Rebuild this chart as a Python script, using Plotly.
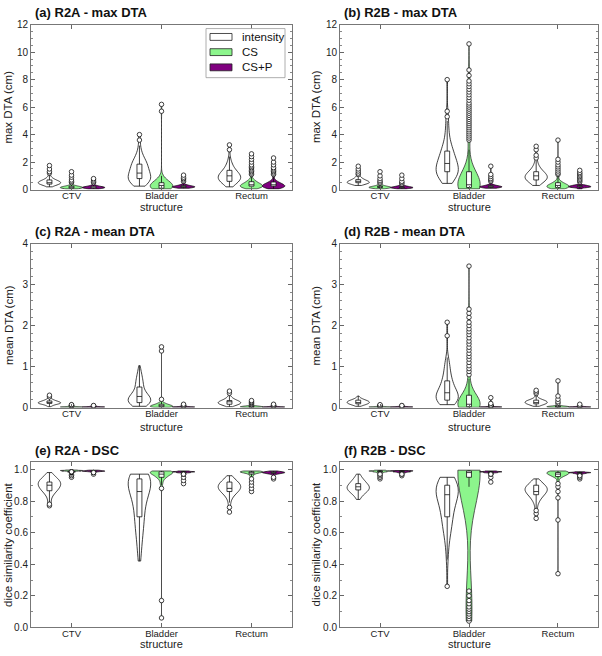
import numpy as np
import plotly.graph_objects as go


def rep(levels, counts):
    return np.repeat(np.array(levels, dtype=float), counts).tolist()


structures = ["CTV", "Bladder", "Rectum"]
methods = ["intensity", "CS", "CS+P"]

# ---------------- (a) R2A - max DTA ----------------
a_int_ctv = rep([0.2, 0.3, 0.4, 0.5, 0.6, 0.7, 0.8, 0.9, 1.0, 1.1, 1.2, 1.3, 1.5, 1.75],
                [2, 6, 12, 14, 11, 7, 4, 2, 1, 1, 1, 1, 1, 1])
a_cs_ctv = rep([0.05, 0.1, 0.15, 0.2, 0.25, 0.3, 0.4, 0.5, 0.6, 0.7, 0.9, 1.05, 1.3],
               [6, 14, 16, 12, 8, 5, 2, 1, 1, 1, 1, 1, 1])
a_csp_ctv = rep([0.05, 0.1, 0.15, 0.2, 0.25, 0.3, 0.4, 0.5, 0.6, 0.7, 0.8],
                [5, 14, 18, 12, 7, 4, 2, 1, 1, 1, 1])
a_int_bla = rep([0.25, 0.4, 0.6, 0.8, 1.0, 1.2, 1.4, 1.6, 1.8, 2.0, 2.2, 2.5, 2.8, 3.2, 3.6, 4.0],
                [2, 5, 8, 8, 7, 6, 6, 5, 5, 5, 4, 3, 2, 1, 1, 1])
a_cs_bla = rep([0.05, 0.1, 0.2, 0.3, 0.4, 0.5, 0.6, 0.7, 0.8, 0.9, 1.0, 5.7, 6.2],
               [8, 14, 14, 12, 9, 7, 5, 3, 2, 1, 1, 1, 1])
a_csp_bla = rep([0.1, 0.15, 0.2, 0.25, 0.3, 0.35, 0.4, 0.5, 0.6, 0.7, 0.8, 0.9, 1.05],
                [6, 14, 18, 12, 7, 4, 2, 1, 1, 1, 1, 1, 1])
a_int_rec = rep([0.2, 0.4, 0.6, 0.8, 1.0, 1.2, 1.4, 1.6, 1.8, 2.0, 2.2, 2.4, 2.9, 3.25],
                [2, 6, 10, 12, 12, 9, 6, 4, 3, 2, 1, 1, 1, 1])
a_cs_rec = rep([0.05, 0.15, 0.25, 0.35, 0.45, 0.55, 0.65, 0.75, 0.9, 1.0, 1.1, 1.2, 1.3, 1.4,
                1.5, 1.6, 1.7, 1.8, 2.0, 2.2, 2.4, 2.6],
               [6, 14, 16, 14, 10, 7, 5, 3, 1, 1, 1, 1, 1, 1, 1, 1, 1, 1, 1, 1, 1, 1])
a_csp_rec = rep([0.05, 0.15, 0.25, 0.35, 0.45, 0.55, 0.65, 0.8, 0.9, 1.0, 1.1, 1.2, 1.3, 1.4,
                 1.5, 1.6, 1.8, 2.0, 2.3],
                [6, 14, 16, 14, 10, 6, 4, 1, 1, 1, 1, 1, 1, 1, 1, 1, 1, 1, 1])

# ---------------- (b) R2B - max DTA ----------------
b_int_ctv = rep([0.3, 0.4, 0.5, 0.6, 0.7, 0.8, 0.9, 1.0, 1.1, 1.2, 1.35, 1.5, 1.7],
                [3, 9, 14, 12, 8, 5, 3, 2, 1, 1, 1, 1, 1])
b_cs_ctv = rep([0.05, 0.1, 0.15, 0.2, 0.25, 0.3, 0.35, 0.45, 0.55, 0.65, 0.8, 1.0, 1.3],
               [5, 12, 16, 14, 9, 5, 3, 1, 1, 1, 1, 1, 1])
b_csp_ctv = rep([0.05, 0.1, 0.15, 0.2, 0.25, 0.3, 0.4, 0.5, 0.6, 0.8, 1.05],
                [5, 14, 18, 12, 7, 4, 1, 1, 1, 1, 1])
b_int_bla = rep([0.45, 0.7, 1.0, 1.3, 1.6, 1.9, 2.2, 2.5, 2.8, 3.1, 3.5, 4.0, 4.5, 5.0, 5.3, 5.7, 8.0],
                [2, 5, 8, 9, 8, 7, 6, 5, 4, 4, 3, 2, 2, 1, 1, 1, 1])
b_cs_bla = rep([0.05, 0.15, 0.25, 0.35, 0.5, 0.7, 0.9, 1.1, 1.3, 1.6, 2.0, 2.9,
                3.6, 3.75, 3.9, 4.05, 4.2, 4.35, 4.5, 4.65, 4.8, 4.95, 5.1, 5.25, 5.4, 5.55,
                5.7, 5.85, 6.0, 6.15, 6.3, 6.5, 6.7, 6.9, 7.1, 7.3, 7.5, 7.7, 7.9, 8.3, 8.7, 10.6],
               [16, 22, 20, 16, 12, 9, 7, 5, 4, 3, 2, 1,
                1, 1, 1, 1, 1, 1, 1, 1, 1, 1, 1, 1, 1, 1,
                1, 1, 1, 1, 1, 1, 1, 1, 1, 1, 1, 1, 1, 1, 1, 1])
b_csp_bla = rep([0.1, 0.15, 0.2, 0.25, 0.3, 0.35, 0.4, 0.5, 0.6, 0.7, 0.8, 0.95, 1.1, 1.7],
                [6, 14, 18, 12, 7, 4, 2, 1, 1, 1, 1, 1, 1, 1])
b_int_rec = rep([0.3, 0.5, 0.7, 0.9, 1.1, 1.3, 1.5, 1.7, 1.9, 2.1, 2.3, 2.5, 2.9, 3.15],
                [3, 7, 11, 13, 11, 8, 5, 3, 2, 1, 1, 1, 1, 1])
b_cs_rec = rep([0.05, 0.15, 0.25, 0.35, 0.45, 0.55, 0.65, 0.8, 0.9, 1.0, 1.1, 1.2, 1.35, 1.5,
                1.65, 1.8, 2.0, 2.2, 3.6],
               [8, 16, 16, 12, 8, 5, 3, 1, 1, 1, 1, 1, 1, 1, 1, 1, 1, 1, 1])
b_csp_rec = rep([0.05, 0.15, 0.2, 0.25, 0.3, 0.35, 0.45, 0.55, 0.65, 0.75, 0.85, 0.95, 1.05,
                 1.15, 1.25, 1.4],
                [5, 12, 16, 14, 10, 6, 3, 1, 1, 1, 1, 1, 1, 1, 1, 1])

# ---------------- (c) R2A - mean DTA ----------------
c_int_ctv = rep([0.02, 0.05, 0.08, 0.1, 0.12, 0.14, 0.16, 0.18, 0.2, 0.22, 0.26, 0.3],
                [2, 5, 9, 12, 12, 10, 7, 5, 3, 2, 1, 1])
c_cs_ctv = rep([0.005, 0.01, 0.015, 0.02, 0.025, 0.03, 0.04, 0.05, 0.06, 0.07],
               [8, 14, 12, 8, 5, 3, 2, 1, 1, 1])
c_csp_ctv = rep([0.005, 0.01, 0.015, 0.02, 0.025, 0.03, 0.04, 0.05],
                [8, 14, 12, 8, 5, 3, 1, 1])
c_int_bla = rep([0.03, 0.07, 0.12, 0.17, 0.22, 0.27, 0.32, 0.4, 0.5, 0.6, 0.7, 0.8, 0.9, 1.02],
                [3, 7, 9, 9, 8, 7, 6, 5, 5, 5, 4, 3, 2, 1])
c_cs_bla = rep([0.005, 0.02, 0.04, 0.06, 0.08, 0.1, 0.12, 0.15, 0.2, 1.38, 1.48],
               [8, 14, 14, 10, 7, 5, 3, 2, 1, 1, 1])
c_csp_bla = rep([0.005, 0.01, 0.015, 0.02, 0.025, 0.03, 0.04, 0.06, 0.08],
                [8, 14, 12, 8, 5, 3, 2, 1, 1])
c_int_rec = rep([0.02, 0.05, 0.08, 0.11, 0.14, 0.17, 0.2, 0.23, 0.26, 0.3, 0.35, 0.4],
                [2, 6, 10, 12, 11, 8, 5, 3, 2, 1, 1, 1])
c_cs_rec = rep([0.005, 0.01, 0.02, 0.03, 0.04, 0.05, 0.08, 0.1, 0.12, 0.14, 0.17],
               [6, 12, 14, 10, 6, 3, 1, 1, 1, 1, 1])
c_csp_rec = rep([0.005, 0.01, 0.015, 0.02, 0.025, 0.03, 0.04, 0.06, 0.08],
                [8, 14, 12, 8, 5, 3, 2, 1, 1])

# ---------------- (d) R2B - mean DTA ----------------
d_int_ctv = rep([0.03, 0.06, 0.09, 0.12, 0.15, 0.18, 0.21, 0.24, 0.28],
                [2, 6, 10, 12, 11, 8, 4, 2, 1])
d_cs_ctv = rep([0.005, 0.01, 0.015, 0.02, 0.025, 0.03, 0.04, 0.05, 0.07],
               [8, 14, 12, 8, 5, 3, 2, 1, 1])
d_csp_ctv = rep([0.005, 0.01, 0.015, 0.02, 0.025, 0.03, 0.04, 0.05],
                [8, 14, 12, 8, 5, 3, 1, 1])
d_int_bla = rep([0.07, 0.12, 0.18, 0.25, 0.32, 0.4, 0.5, 0.6, 0.7, 0.8, 0.9, 1.0, 1.1, 1.15,
                 1.22, 1.75, 2.08],
                [3, 7, 9, 9, 8, 7, 6, 5, 4, 3, 3, 2, 2, 1, 1, 1, 1])
d_cs_bla = rep([0.005, 0.02, 0.05, 0.08, 0.12, 0.16, 0.2, 0.25, 0.3, 0.4, 0.5, 0.6, 0.7,
                0.8, 0.88, 0.95, 1.02, 1.1, 1.18, 1.25, 1.32, 1.4, 1.47, 1.55, 1.62, 1.7,
                1.78, 1.85, 1.92, 2.0, 2.08, 2.2, 2.3, 2.4, 3.45],
               [14, 20, 18, 14, 10, 8, 6, 5, 4, 3, 2, 2, 1,
                1, 1, 1, 1, 1, 1, 1, 1, 1, 1, 1, 1, 1,
                1, 1, 1, 1, 1, 1, 1, 1, 1])
d_csp_bla = rep([0.005, 0.01, 0.015, 0.02, 0.03, 0.04, 0.06, 0.1, 0.24],
                [8, 14, 12, 8, 5, 3, 2, 1, 1])
d_int_rec = rep([0.03, 0.06, 0.09, 0.12, 0.15, 0.18, 0.21, 0.25, 0.3, 0.34, 0.38, 0.42],
                [2, 6, 10, 12, 11, 8, 4, 2, 1, 1, 1, 1])
d_cs_rec = rep([0.005, 0.01, 0.02, 0.03, 0.04, 0.06, 0.08, 0.1, 0.14, 0.2, 0.28, 0.65],
               [6, 12, 14, 10, 6, 3, 1, 1, 1, 1, 1, 1])
d_csp_rec = rep([0.005, 0.01, 0.015, 0.02, 0.025, 0.03, 0.05, 0.08],
                [8, 14, 12, 8, 5, 3, 1, 1])

# ---------------- (e) R2A - DSC ----------------
e_int_ctv = rep([0.77, 0.78, 0.79, 0.8, 0.82, 0.84, 0.86, 0.88, 0.9, 0.92, 0.94, 0.96, 0.98],
                [1, 1, 1, 1, 2, 4, 7, 10, 12, 12, 9, 5, 2])
e_cs_ctv = rep([0.95, 0.96, 0.97, 0.98, 0.985, 0.99, 0.993, 0.996],
               [1, 1, 1, 2, 6, 14, 16, 8])
e_csp_ctv = rep([0.97, 0.98, 0.985, 0.988, 0.99, 0.993, 0.995],
                [1, 2, 6, 12, 14, 10, 4])
e_int_bla = rep([0.42, 0.45, 0.5, 0.55, 0.6, 0.65, 0.7, 0.75, 0.8, 0.84, 0.88, 0.91, 0.94, 0.97],
                [1, 1, 2, 2, 3, 4, 4, 4, 5, 5, 6, 8, 9, 8])
e_cs_bla = rep([0.06, 0.17, 0.88, 0.9, 0.92, 0.94, 0.95, 0.96, 0.97, 0.98, 0.985, 0.99],
               [1, 1, 1, 2, 3, 4, 5, 7, 9, 11, 10, 8])
e_csp_bla = rep([0.91, 0.93, 0.95, 0.97, 0.98, 0.985, 0.99],
                [1, 1, 1, 3, 10, 16, 8])
e_int_rec = rep([0.73, 0.76, 0.79, 0.82, 0.84, 0.86, 0.88, 0.9, 0.92, 0.94, 0.96],
                [1, 1, 2, 3, 5, 9, 12, 12, 9, 5, 2])
e_cs_rec = rep([0.86, 0.88, 0.9, 0.92, 0.94, 0.95, 0.96, 0.97, 0.98, 0.985, 0.99],
               [1, 1, 1, 1, 1, 2, 3, 6, 12, 14, 8])
e_csp_rec = rep([0.94, 0.95, 0.96, 0.97, 0.975, 0.98, 0.985, 0.99],
                [1, 1, 2, 4, 8, 14, 10, 3])

# ---------------- (f) R2B - DSC ----------------
f_int_ctv = rep([0.81, 0.83, 0.85, 0.87, 0.89, 0.91, 0.93, 0.95, 0.97],
                [2, 4, 8, 12, 13, 10, 7, 4, 2])
f_cs_ctv = rep([0.94, 0.95, 0.96, 0.97, 0.98, 0.985, 0.99, 0.995],
               [1, 1, 1, 2, 5, 10, 16, 8])
f_csp_ctv = rep([0.96, 0.97, 0.98, 0.985, 0.99, 0.993],
                [1, 2, 6, 12, 14, 6])
f_int_bla = rep([0.26, 0.43, 0.47, 0.55, 0.6, 0.65, 0.7, 0.75, 0.8, 0.84, 0.87, 0.9, 0.93, 0.95],
                [1, 1, 1, 2, 3, 4, 5, 5, 6, 7, 8, 7, 5, 3])
f_cs_bla = rep([0.04, 0.055, 0.07, 0.085, 0.1, 0.115, 0.13, 0.15, 0.17, 0.2, 0.23,
                0.89, 0.95, 0.96, 0.97, 0.98, 0.99, 0.995],
               [1, 1, 1, 1, 1, 1, 1, 1, 1, 1, 1,
                1, 2, 3, 6, 10, 12, 6])
f_csp_bla = rep([0.92, 0.95, 0.97, 0.98, 0.985, 0.99],
                [1, 1, 3, 10, 16, 8])
f_int_rec = rep([0.69, 0.72, 0.74, 0.75, 0.78, 0.8, 0.82, 0.84, 0.86, 0.88, 0.9, 0.92, 0.94],
                [1, 1, 1, 1, 2, 3, 5, 8, 11, 12, 9, 5, 2])
f_cs_rec = rep([0.34, 0.68, 0.82, 0.86, 0.89, 0.91, 0.93, 0.95, 0.96, 0.97, 0.98, 0.99],
               [1, 1, 1, 1, 1, 1, 2, 4, 6, 10, 12, 8])
f_csp_rec = rep([0.94, 0.95, 0.96, 0.97, 0.975, 0.98, 0.985],
                [1, 1, 2, 4, 8, 14, 6])

panels = [
    dict(title="(a) R2A - max DTA", ytitle="max DTA (cm)",
         data=[[a_int_ctv, a_int_bla, a_int_rec], [a_cs_ctv, a_cs_bla, a_cs_rec],
               [a_csp_ctv, a_csp_bla, a_csp_rec]]),
    dict(title="(b) R2B - max DTA", ytitle="max DTA (cm)",
         data=[[b_int_ctv, b_int_bla, b_int_rec], [b_cs_ctv, b_cs_bla, b_cs_rec],
               [b_csp_ctv, b_csp_bla, b_csp_rec]]),
    dict(title="(c) R2A - mean DTA", ytitle="mean DTA (cm)",
         data=[[c_int_ctv, c_int_bla, c_int_rec], [c_cs_ctv, c_cs_bla, c_cs_rec],
               [c_csp_ctv, c_csp_bla, c_csp_rec]]),
    dict(title="(d) R2B - mean DTA", ytitle="mean DTA (cm)",
         data=[[d_int_ctv, d_int_bla, d_int_rec], [d_cs_ctv, d_cs_bla, d_cs_rec],
               [d_csp_ctv, d_csp_bla, d_csp_rec]]),
    dict(title="(e) R2A - DSC", ytitle="dice similarity coefficient",
         data=[[e_int_ctv, e_int_bla, e_int_rec], [e_cs_ctv, e_cs_bla, e_cs_rec],
               [e_csp_ctv, e_csp_bla, e_csp_rec]]),
    dict(title="(f) R2B - DSC", ytitle="dice similarity coefficient",
         data=[[f_int_ctv, f_int_bla, f_int_rec], [f_cs_ctv, f_cs_bla, f_cs_rec],
               [f_csp_ctv, f_csp_bla, f_csp_rec]]),
]

# ---------------- styling / layout ----------------
FONT = "Liberation Sans, Arial, sans-serif"
fills = ["#ffffff", "#8cf58c", "#800080"]
outlines = ["#111111", "#333333", "#111111"]
offsets = [-0.245, 0.0, 0.245]
vwidth = 0.25
# kernel bandwidths for the long-tailed CS violins (panel index, method, structure)
bw_override = {(0, 1, 1): 0.3, (1, 1, 1): 0.85, (3, 1, 1): 0.22, (5, 1, 1): 0.2}

W, H = 602, 656
col_px = [(31, 292), (340, 598)]
row_px = [(19, 187), (242, 409), (464, 633)]
yranges = [[0, 12], [0, 12], [0, 4], [0, 4], [0, 1.05], [0, 1.05]]
ydticks = [2, 2, 1, 1, 0.2, 0.2]
yminor = [0.5, 0.5, 0.2, 0.2, 0.1, 0.1]
yfmt = ["", "", "", "", ".1f", ".1f"]

fig = go.Figure()
layout = dict(width=W, height=H, margin=dict(l=0, r=0, t=0, b=0),
              paper_bgcolor="white", plot_bgcolor="white",
              violinmode="overlay", showlegend=False,
              font=dict(family=FONT, size=10, color="#222222"))
annotations = []
shapes = []

for k, p in enumerate(panels):
    r, c = divmod(k, 2)
    sfx = "" if k == 0 else str(k + 1)
    xa, ya = "x" + sfx, "y" + sfx
    x0p, x1p = col_px[c]
    y0p, y1p = row_px[r]
    for m in range(3):
        for s in range(3):
            kw = {}
            if (k, m, s) in bw_override:
                kw["bandwidth"] = bw_override[(k, m, s)]
            fig.add_trace(go.Violin(
                y=p["data"][m][s], x0=s + offsets[m], width=vwidth,
                xaxis=xa, yaxis=ya, name=methods[m],
                fillcolor=fills[m], line=dict(color=outlines[m], width=0.8),
                spanmode="hard", scalemode="width",
                box=dict(visible=True, width=0.22, fillcolor="white",
                         line=dict(color="#111111", width=0.8)),
                meanline=dict(visible=False),
                points="outliers", pointpos=0, jitter=0,
                marker=dict(color="white", size=4.5, line=dict(color="#111111", width=0.8)),
                hoverinfo="skip", **kw))
    layout["xaxis" + sfx] = dict(
        domain=[x0p / W, x1p / W], anchor=ya, range=[-0.45, 2.45],
        tickmode="array", tickvals=[0, 1, 2], ticktext=structures,
        ticks="inside", ticklen=4, tickcolor="#666666", ticklabelstandoff=-3,
        showline=True, linecolor="#777777", linewidth=1, mirror="ticks",
        showgrid=False, zeroline=False, tickfont=dict(size=9.5, color="#222222"))
    layout["yaxis" + sfx] = dict(
        domain=[1 - y1p / H, 1 - y0p / H], anchor=xa, range=yranges[k],
        tick0=0, dtick=ydticks[k], tickformat=yfmt[k],
        ticks="inside", ticklen=4, tickcolor="#666666",
        minor=dict(dtick=yminor[k], ticks="inside", ticklen=2, tickcolor="#888888",
                   showgrid=False),
        showline=True, linecolor="#777777", linewidth=1, mirror="ticks",
        showgrid=False, zeroline=False, tickfont=dict(size=10, color="#222222"))
    # panel title
    ty = [7, 230, 453][r]
    annotations.append(dict(text="<b>" + p["title"] + "</b>", xref="paper", yref="paper",
                            x=(x0p + 1.5) / W, y=1 - ty / H, xanchor="left", yanchor="middle",
                            showarrow=False, font=dict(size=13, color="#111111")))
    # y title
    yx = [8.5, 316][c]
    annotations.append(dict(text=p["ytitle"], xref="paper", yref="paper",
                            x=yx / W, y=1 - (y0p + y1p) / 2 / H, textangle=-90,
                            xanchor="center", yanchor="middle", showarrow=False,
                            font=dict(size=11.5, color="#222222")))
    # x title
    sy = [205, 429, 650][r]
    annotations.append(dict(text="structure", xref="paper", yref="paper",
                            x=(x0p + x1p) / 2 / W, y=1 - sy / H,
                            xanchor="center", yanchor="middle", showarrow=False,
                            font=dict(size=11, color="#222222")))

# legend drawn in panel (a)
shapes.append(dict(type="rect", xref="paper", yref="paper",
                   x0=206 / W, x1=285 / W, y0=1 - 73 / H, y1=1 - 23 / H,
                   fillcolor="white", line=dict(color="#9a9a9a", width=0.8), layer="above"))
for i, (lab, fc) in enumerate(zip(methods, fills)):
    cy = [31.5, 47, 62.5][i]
    shapes.append(dict(type="rect", xref="paper", yref="paper",
                       x0=210 / W, x1=232 / W, y0=1 - (cy + 3.5) / H, y1=1 - (cy - 3.5) / H,
                       fillcolor=fc, line=dict(color="#222222", width=0.8), layer="above"))
    annotations.append(dict(text=lab, xref="paper", yref="paper", x=240 / W, y=1 - cy / H,
                            xanchor="left", yanchor="middle", showarrow=False,
                            font=dict(size=11.5, color="#111111")))

layout["annotations"] = annotations
layout["shapes"] = shapes
fig.update_layout(**layout)
fig.write_html("out.html")
